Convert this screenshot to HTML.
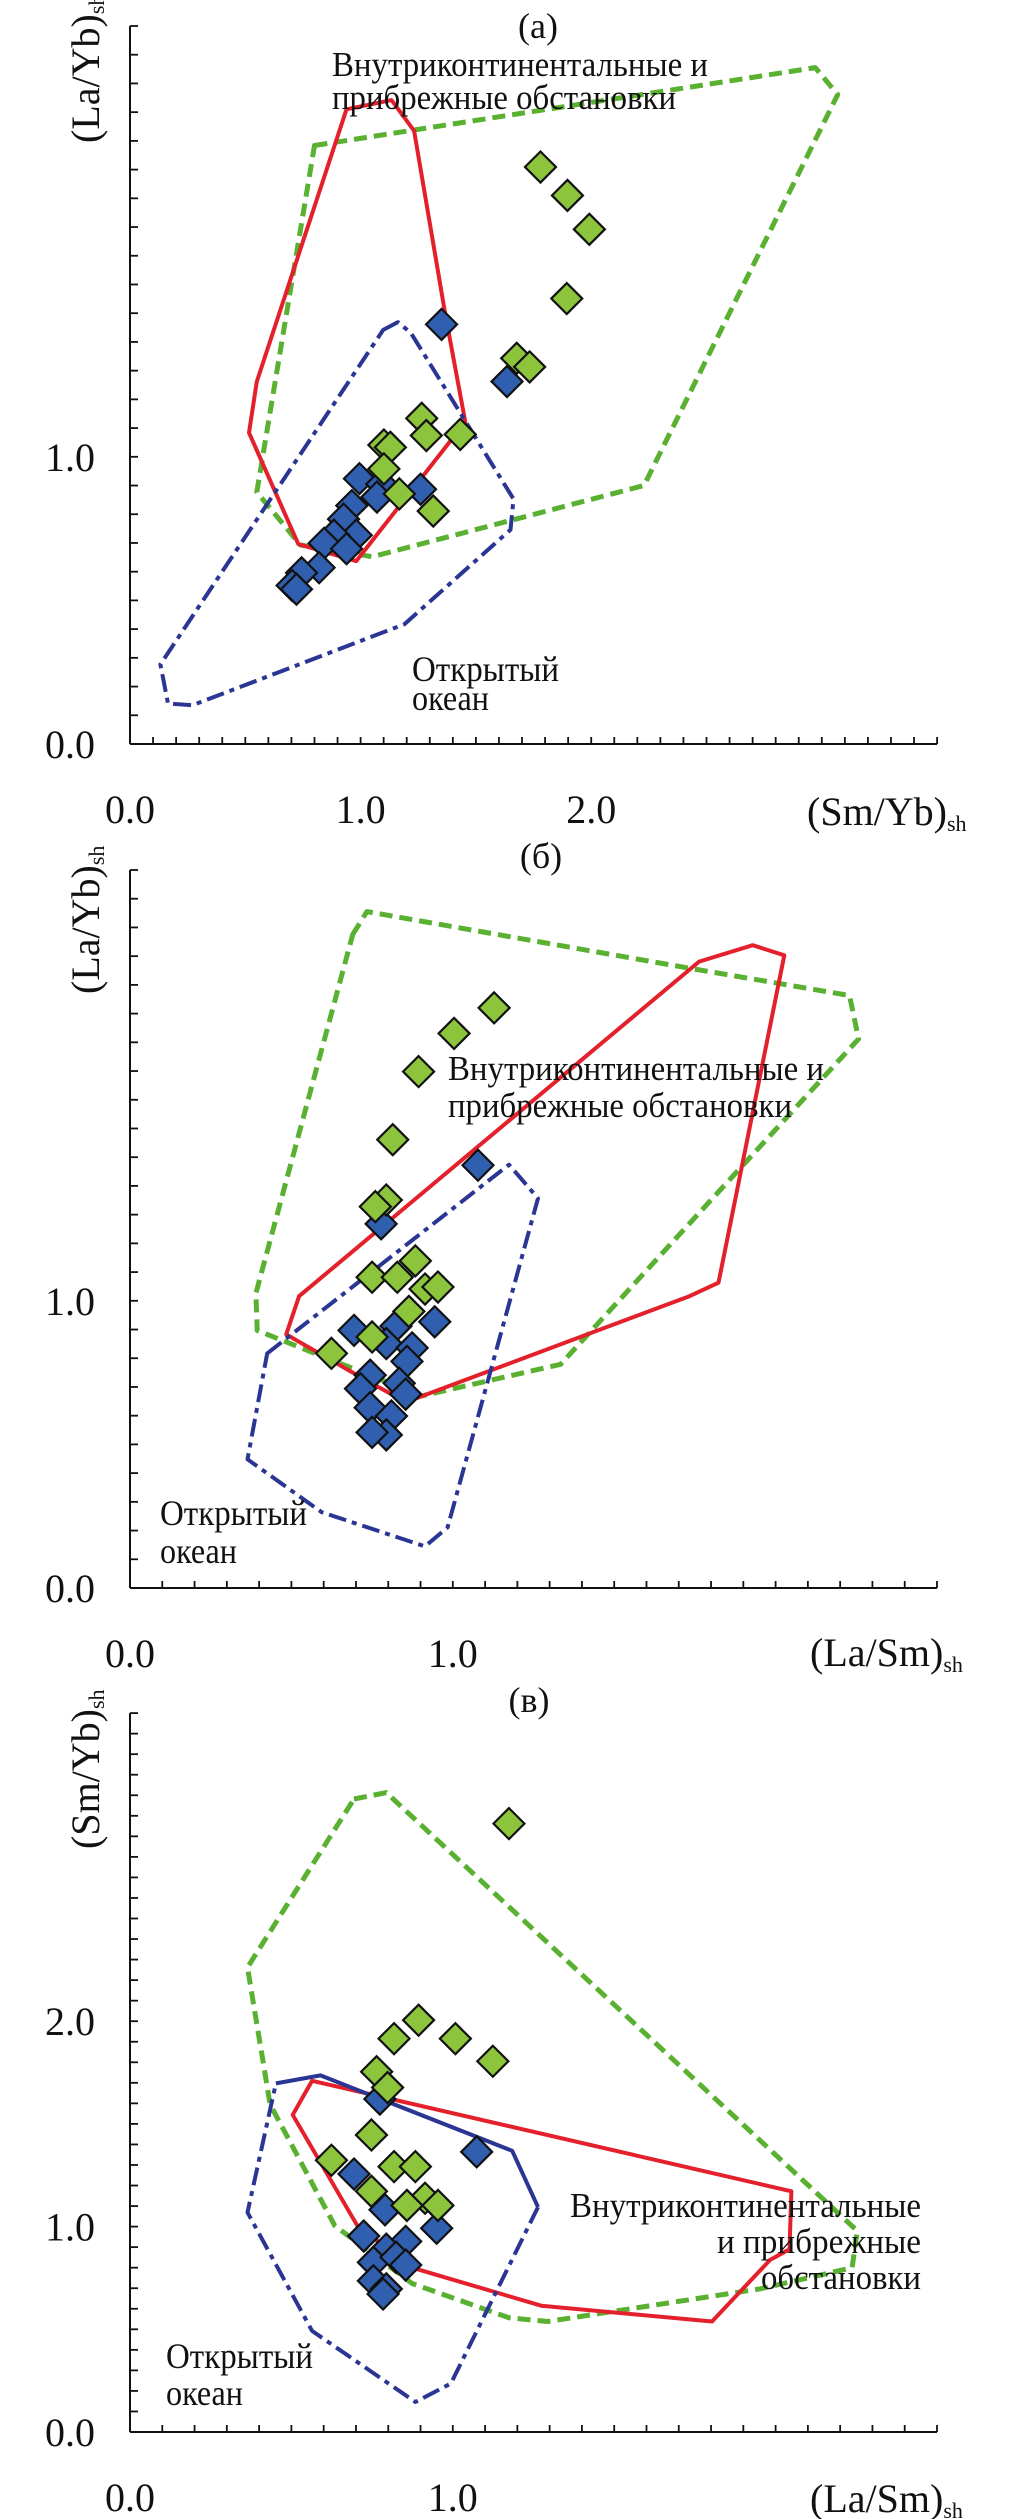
<!DOCTYPE html>
<html><head><meta charset="utf-8"><style>
html,body{margin:0;padding:0;background:#fff}
svg{display:block}
text{font-family:"Liberation Serif",serif;fill:#111}
</style></head><body>
<svg id="fig" width="1010" height="2519" viewBox="0 0 1010 2519" xmlns="http://www.w3.org/2000/svg">
<rect width="1010" height="2519" fill="#fff"/>
<g id="ga"></g>
<g id="gb"></g>
<g id="gc"></g>

<text x="538" y="38" font-size="36" text-anchor="middle">(а)</text>
<text x="541" y="868" font-size="36" text-anchor="middle">(б)</text>
<text x="529" y="1712" font-size="36" text-anchor="middle">(в)</text>

<text transform="translate(99,143) rotate(-90)" font-size="40">(La/Yb)<tspan font-size="22" dy="5">sh</tspan></text>
<text transform="translate(99,994) rotate(-90)" font-size="40">(La/Yb)<tspan font-size="22" dy="5">sh</tspan></text>
<text transform="translate(99,1849) rotate(-90)" font-size="40">(Sm/Yb)<tspan font-size="22" dy="5">sh</tspan></text>

<text x="807" y="825" font-size="40">(Sm/Yb)<tspan font-size="22" dy="6">sh</tspan></text>
<text x="810" y="1666" font-size="40">(La/Sm)<tspan font-size="22" dy="6">sh</tspan></text>
<text x="810" y="2512" font-size="40">(La/Sm)<tspan font-size="22" dy="6">sh</tspan></text>

<text x="332" y="76" font-size="35" textLength="376" lengthAdjust="spacingAndGlyphs">Внутриконтинентальные и</text>
<text x="332" y="109" font-size="35" textLength="344" lengthAdjust="spacingAndGlyphs">прибрежные обстановки</text>
<text x="412" y="681" font-size="36" textLength="147" lengthAdjust="spacingAndGlyphs">Открытый</text>
<text x="412" y="710" font-size="36" textLength="77" lengthAdjust="spacingAndGlyphs">океан</text>

<text x="448" y="1080" font-size="35" textLength="376" lengthAdjust="spacingAndGlyphs">Внутриконтинентальные и</text>
<text x="448" y="1117" font-size="35" textLength="344" lengthAdjust="spacingAndGlyphs">прибрежные обстановки</text>
<text x="160" y="1525" font-size="36" textLength="147" lengthAdjust="spacingAndGlyphs">Открытый</text>
<text x="160" y="1563" font-size="36" textLength="77" lengthAdjust="spacingAndGlyphs">океан</text>

<text x="921" y="2217" font-size="35" text-anchor="end" textLength="351" lengthAdjust="spacingAndGlyphs">Внутриконтинентальные</text>
<text x="921" y="2253" font-size="35" text-anchor="end" textLength="204" lengthAdjust="spacingAndGlyphs">и прибрежные</text>
<text x="921" y="2289" font-size="35" text-anchor="end" textLength="160" lengthAdjust="spacingAndGlyphs">обстановки</text>
<text x="166" y="2368" font-size="36" textLength="147" lengthAdjust="spacingAndGlyphs">Открытый</text>
<text x="166" y="2405" font-size="36" textLength="77" lengthAdjust="spacingAndGlyphs">океан</text>
</svg>
<script>
// ---------- chart (а): (Sm/Yb)sh vs (La/Yb)sh ----------
const A_XTICKS = ["0.0", "1.0", "2.0"];
const A_YTICKS = ["0.0", "1.0"];
const A_GREEN_X = [1.780,1.897,1.992,1.894,1.677,1.733,1.265,1.285,1.432,1.101,1.129,1.101,1.168,1.315];
const A_GREEN_Y = [2.009,1.910,1.792,1.551,1.343,1.313,1.134,1.074,1.078,1.041,1.033,0.958,0.871,0.811];
const A_BLUE_X = [1.351,1.635,0.995,1.092,1.071,1.260,0.962,0.926,0.981,0.884,0.842,0.939,0.820,0.744,0.703,0.722];
const A_BLUE_Y = [1.461,1.262,0.924,0.905,0.860,0.887,0.830,0.783,0.727,0.727,0.699,0.680,0.614,0.596,0.552,0.539];
const A_CONT_X = [0.800,2.972,3.069,2.229,1.051,0.739,0.550];
const A_CONT_Y = [2.084,2.355,2.261,0.900,0.652,0.693,0.877];
const A_RED_X = [0.939,1.134,1.232,1.365,1.454,0.981,0.730,0.516,0.550];
const A_RED_Y = [2.210,2.242,2.135,1.506,1.121,0.637,0.696,1.084,1.262];
const A_OCEAN_X = [1.098,1.162,1.218,1.663,1.650,1.190,0.271,0.165,0.132];
const A_OCEAN_Y = [1.442,1.469,1.431,0.853,0.746,0.417,0.135,0.141,0.277];

// ---------- chart (б): (La/Sm)sh vs (La/Yb)sh ----------
const B_XTICKS = ["0.0", "1.0"];
const B_YTICKS = ["0.0", "1.0"];
const B_GREEN_X = [1.128,1.004,0.894,0.814,0.794,0.760,0.884,0.750,0.828,0.914,0.954,0.864,0.750,0.624];
const B_GREEN_Y = [2.020,1.931,1.798,1.561,1.351,1.328,1.139,1.082,1.082,1.041,1.048,0.963,0.874,0.817];
const B_BLUE_X = [1.078,0.778,0.944,0.694,0.824,0.794,0.874,0.858,0.744,0.714,0.834,0.854,0.744,0.810,0.794,0.750];
const B_BLUE_Y = [1.472,1.268,0.927,0.897,0.912,0.851,0.836,0.789,0.741,0.694,0.713,0.675,0.628,0.599,0.533,0.542];
const B_CONT_X = [0.690,0.734,1.733,2.229,2.257,1.334,0.904,0.394,0.390];
const B_CONT_Y = [2.275,2.355,2.158,2.063,1.912,0.779,0.669,0.897,1.026];
const B_RED_X = [0.524,1.763,1.929,2.027,1.823,1.733,0.854,0.704,0.484];
const B_RED_Y = [1.016,2.181,2.238,2.203,1.063,1.016,0.647,0.741,0.883];
const B_OCEAN_X = [0.425,1.174,1.264,0.984,0.914,0.594,0.364];
const B_OCEAN_Y = [0.817,1.474,1.357,0.211,0.145,0.264,0.448];

// ---------- chart (в): (La/Sm)sh vs (Sm/Yb)sh ----------
const C_XTICKS = ["0.0", "1.0"];
const C_YTICKS = ["0.0", "1.0", "2.0"];
const C_GREEN_X = [1.174,0.894,0.818,1.008,1.124,0.764,0.798,0.748,0.624,0.818,0.884,0.748,0.914,0.858,0.954];
const C_GREEN_Y = [2.962,2.005,1.915,1.915,1.805,1.754,1.677,1.446,1.323,1.292,1.292,1.172,1.138,1.103,1.103];
const C_BLUE_X = [0.774,1.074,0.694,0.790,0.950,0.724,0.854,0.794,0.754,0.824,0.854,0.754,0.794,0.784];
const C_BLUE_Y = [1.621,1.364,1.256,1.082,0.992,0.954,0.928,0.890,0.826,0.851,0.813,0.736,0.697,0.672];
const C_CONT_X = [0.694,0.794,2.253,2.237,1.953,1.294,1.174,0.874,0.634,0.434,0.364];
const C_CONT_Y = [3.082,3.113,0.979,0.800,0.697,0.538,0.556,0.723,1.005,1.595,2.262];
const C_RED_X = [0.564,2.049,2.043,1.983,1.803,1.274,0.874,0.704,0.504];
const C_RED_Y = [1.710,1.172,0.890,0.838,0.538,0.615,0.800,1.005,1.544];
const C_OCEAN_SOLID_X = [0.452,0.590,1.184,1.264];
const C_OCEAN_SOLID_Y = [1.697,1.736,1.369,1.095];
const C_OCEAN_DASH_X = [1.264,0.994,0.884,0.564,0.364,0.452];
const C_OCEAN_DASH_Y = [1.095,0.236,0.146,0.492,1.069,1.697];

const NS = "http://www.w3.org/2000/svg";
function mk(parent, tag, attrs) {
  const el = document.createElementNS(NS, tag);
  for (const k in attrs) el.setAttribute(k, attrs[k]);
  parent.appendChild(el);
  return el;
}

function drawChart(g, cfg, d) {
  const X = v => cfg.ox + v * cfg.sx;
  const Y = v => cfg.oy - v * cfg.sy;
  const top = Y(cfg.yMax), right = X(cfg.xMax);

  function poly(xs, ys, style, closed, name) {
    let p = xs.map((v, i) => X(v).toFixed(1) + "," + Y(ys[i]).toFixed(1)).join(" ");
    const el = mk(g, closed ? "polygon" : "polyline", Object.assign({points: p, fill: "none", "stroke-linejoin": "round"}, style));
    
    
  }
  poly(d.contX, d.contY, {stroke: "#5ab031", "stroke-width": 5, "stroke-dasharray": "13,7"}, true, "continental-field-green-dashed");
  poly(d.redX, d.redY, {stroke: "#e3202b", "stroke-width": 4}, true, "continental-field-red");
  if (d.oceanSolidX) {
    poly(d.oceanSolidX, d.oceanSolidY, {stroke: "#2a3594", "stroke-width": 4}, false, "ocean-field-solid-part");
    poly(d.oceanX, d.oceanY, {stroke: "#2a3594", "stroke-width": 4, "stroke-dasharray": "18,6,5,6"}, false, "ocean-field-dashdot-part");
  } else {
    poly(d.oceanX, d.oceanY, {stroke: "#2a3594", "stroke-width": 4, "stroke-dasharray": "18,6,5,6"}, true, "ocean-field-dashdot");
  }

  const ya = mk(g, "line", {x1: cfg.ox, y1: top, x2: cfg.ox, y2: cfg.oy, stroke: "#111", "stroke-width": 2});
  
  
  const xa = mk(g, "line", {x1: cfg.ox, y1: cfg.oy, x2: right, y2: cfg.oy, stroke: "#111", "stroke-width": 2});
  
  
  const ny = Math.round(cfg.yMax * 10), nx = Math.round(cfg.xMax * 10);
  for (let i = 1; i <= ny; i++) {
    const t = mk(g, "line", {x1: cfg.ox, y1: Y(i / 10), x2: cfg.ox + 8, y2: Y(i / 10), stroke: "#111", "stroke-width": 1.8});
    
    
  }
  for (let i = 1; i <= nx; i++) {
    const t = mk(g, "line", {x1: X(i / 10), y1: cfg.oy, x2: X(i / 10), y2: cfg.oy - 7, stroke: "#111", "stroke-width": 1.8});
    
    
  }
  d.yTicks.forEach(s => {
    const t = mk(g, "text", {x: 95, y: Y(parseFloat(s)) + 14, "font-size": 40, "text-anchor": "end"});
    t.textContent = s;
    
    
  });
  d.xTicks.forEach(s => {
    const t = mk(g, "text", {x: X(parseFloat(s)), y: cfg.oy + 79, "font-size": 40, "text-anchor": "middle"});
    t.textContent = s;
    
    
  });

  function diamonds(xs, ys, fill, name) {
    const h = 15.5;
    xs.forEach((v, i) => {
      const cx = X(v), cy = Y(ys[i]);
      const p = mk(g, "polygon", {points: `${cx},${cy - h} ${cx + h},${cy} ${cx},${cy + h} ${cx - h},${cy}`, fill: fill, stroke: "#111", "stroke-width": 2.2});
      
      
    });
  }
  diamonds(d.blueX, d.blueY, "#2f5fae", "blue-sample-point");
  diamonds(d.greenX, d.greenY, "#8cc43c", "green-sample-point");
}

drawChart(document.getElementById("ga"), {ox: 130, oy: 744, sx: 230.6, sy: 287.2, xMax: 3.5, yMax: 2.5},
  {xTicks: A_XTICKS, yTicks: A_YTICKS, greenX: A_GREEN_X, greenY: A_GREEN_Y, blueX: A_BLUE_X, blueY: A_BLUE_Y,
   contX: A_CONT_X, contY: A_CONT_Y, redX: A_RED_X, redY: A_RED_Y, oceanX: A_OCEAN_X, oceanY: A_OCEAN_Y});
drawChart(document.getElementById("gb"), {ox: 130, oy: 1588, sx: 322.8, sy: 287.2, xMax: 2.5, yMax: 2.5},
  {xTicks: B_XTICKS, yTicks: B_YTICKS, greenX: B_GREEN_X, greenY: B_GREEN_Y, blueX: B_BLUE_X, blueY: B_BLUE_Y,
   contX: B_CONT_X, contY: B_CONT_Y, redX: B_RED_X, redY: B_RED_Y, oceanX: B_OCEAN_X, oceanY: B_OCEAN_Y});
drawChart(document.getElementById("gc"), {ox: 130, oy: 2432, sx: 322.8, sy: 205.4, xMax: 2.5, yMax: 3.5},
  {xTicks: C_XTICKS, yTicks: C_YTICKS, greenX: C_GREEN_X, greenY: C_GREEN_Y, blueX: C_BLUE_X, blueY: C_BLUE_Y,
   contX: C_CONT_X, contY: C_CONT_Y, redX: C_RED_X, redY: C_RED_Y,
   oceanSolidX: C_OCEAN_SOLID_X, oceanSolidY: C_OCEAN_SOLID_Y, oceanX: C_OCEAN_DASH_X, oceanY: C_OCEAN_DASH_Y});
</script>
</body></html>
